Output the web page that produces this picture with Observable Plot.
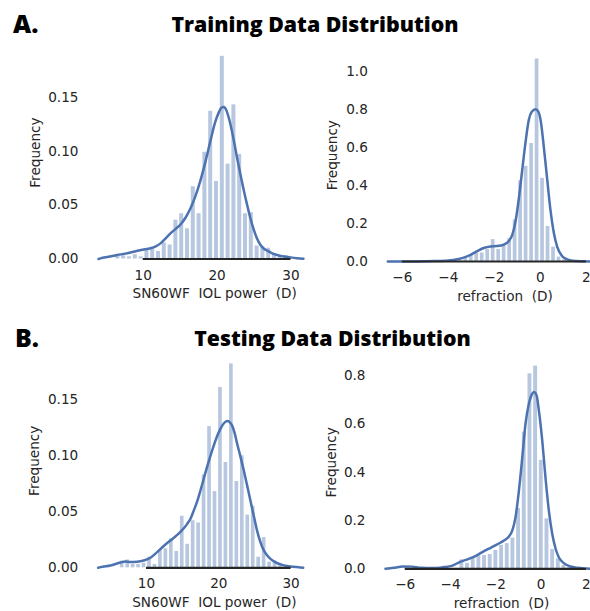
<!DOCTYPE html>
<html>
<head>
<meta charset="utf-8">
<script src="https://cdn.jsdelivr.net/npm/d3@7"></script>
<script src="https://cdn.jsdelivr.net/npm/@observablehq/plot@0.6"></script>
<style>
  html, body { margin: 0; padding: 0; background: #fff; overflow: hidden; }
  #figure { position: relative; width: 590px; height: 611px; overflow: hidden; }
  #figure > svg { position: absolute; }
  svg.dist-panel text { font-family: "DejaVu Sans", sans-serif !important; font-size: 13.6px !important; }
</style>
</head>
<body>
<div id="figure"></div>
<script>
// ---- Histogram densities (bin start, bin width, heights) ----
const iolTrainBinStart = 6.18, iolTrainBinWidth = 0.785;
const iolTrainDensity = [0.003, 0.003, 0.002, 0.004, 0.002, 0.008, 0.009, 0.007, 0.015, 0.013,
  0.036, 0.042, 0.028, 0.067, 0.042, 0.099, 0.137, 0.072, 0.188, 0.088,
  0.143, 0.097, 0.042, 0.043, 0.012, 0.011, 0.010, 0.004, 0.003, 0.003];

const refrTrainBinStart = -3.838, refrTrainBinWidth = 0.2384;
const refrTrainDensity = [0.003, 0.008, 0.019, 0.031, 0.045, 0.045, 0.063, 0.115, 0.063, 0.087,
  0.119, 0.219, 0.425, 0.50, 0.62, 1.064, 0.437, 0.184, 0.075, 0.023, 0.008];

const iolTestBinStart = 6.26, iolTestBinWidth = 0.755;
const iolTestDensity = [0.006, 0.007, 0.003, 0.003, 0.004, 0.0095, 0.003, 0.016, 0.017, 0.026,
  0.0146, 0.046, 0.021, 0.042, 0.040, 0.083, 0.126, 0.068, 0.161, 0.094,
  0.182, 0.077, 0.100, 0.047, 0.055, 0.0095, 0.027, 0.005, 0.006, 0.004, 0.002];

const refrTestBinStart = -3.625, refrTestBinWidth = 0.2505;
const refrTestDensity = [0.037, 0.023, 0.044, 0.054, 0.055, 0.059, 0.076, 0.097, 0.104, 0.127,
  0.25, 0.566, 0.807, 0.839, 0.449, 0.207, 0.080, 0.041, 0.014, 0.007];

// ---- Kernel density estimates ([value, density]) ----
const iolTrainKde = [[3.95,0],[4.22,0.0006],[5.3,0.002],[6.48,0.0037],[7.6,0.005],[8.73,0.0068],
  [9.9,0.0085],[10.99,0.010],[11.7,0.0118],[12.34,0.0145],[13.0,0.019],[13.69,0.0238],[14.4,0.028],
  [15.05,0.032],[15.7,0.038],[16.4,0.047],[17.1,0.059],[17.75,0.073],[18.45,0.091],[19.11,0.110],
  [19.7,0.126],[20.23,0.136],[20.6,0.1405],[20.91,0.141],[21.25,0.138],[21.58,0.131],[22.26,0.110],
  [22.7,0.094],[23.17,0.078],[23.6,0.064],[24.07,0.050],[24.5,0.038],[24.97,0.027],[25.4,0.019],
  [25.87,0.013],[26.3,0.0098],[26.78,0.0077],[27.4,0.0055],[28.13,0.0037],[29.0,0.0024],
  [29.93,0.0015],[30.8,0.0008],[31.69,0.0003]];

const refrTrainKde = [[-6.63,0],[-5.5,0.0005],[-4.6,0.002],[-4.0,0.005],[-3.6,0.012],[-3.3,0.022],
  [-3.035,0.035],[-2.74,0.054],[-2.46,0.071],[-2.165,0.079],[-1.875,0.081],[-1.585,0.089],
  [-1.37,0.108],[-1.22,0.14],[-1.08,0.21],[-0.93,0.335],[-0.79,0.478],[-0.64,0.63],[-0.5,0.745],
  [-0.38,0.785],[-0.2,0.80],[-0.1,0.79],[0.01,0.744],[0.15,0.604],[0.30,0.429],[0.44,0.271],
  [0.59,0.148],[0.73,0.078],[0.95,0.028],[1.17,0.011],[1.4,0.004],[1.8,0.001],[2.28,0]];

const iolTestKde = [[3.32,0],[3.64,0.0006],[5.02,0.002],[6.40,0.0048],[7.09,0.0057],[7.78,0.0052],
  [8.70,0.0054],[9.62,0.0065],[10.55,0.009],[11.47,0.014],[12.39,0.0195],[13.31,0.0244],[14.0,0.028],
  [14.69,0.032],[15.61,0.039],[16.1,0.044],[16.53,0.051],[17.0,0.059],[17.46,0.069],[18.38,0.090],
  [19.30,0.109],[19.8,0.118],[20.22,0.124],[20.7,0.129],[21.14,0.131],[21.5,0.130],[21.84,0.127],
  [22.2,0.120],[22.53,0.111],[23.0,0.099],[23.45,0.087],[23.9,0.074],[24.37,0.060],[24.85,0.046],
  [25.30,0.033],[25.75,0.023],[26.22,0.0155],[26.7,0.011],[27.14,0.008],[27.8,0.005],[28.52,0.003],
  [29.91,0.0012],[31.29,0.0003],[31.67,0]];

const refrTestKde = [[-6.87,0],[-6.5,0.004],[-6.1,0.010],[-5.7,0.009],[-5.3,0.004],[-4.8,0.003],
  [-4.3,0.007],[-3.95,0.012],[-3.6,0.028],[-3.2,0.041],[-2.82,0.057],[-2.52,0.073],[-2.23,0.087],
  [-1.94,0.101],[-1.64,0.117],[-1.42,0.134],[-1.27,0.159],[-1.13,0.214],[-0.98,0.324],[-0.83,0.462],
  [-0.69,0.60],[-0.54,0.683],[-0.42,0.72],[-0.32,0.732],[-0.2,0.718],[-0.10,0.656],[0.05,0.531],
  [0.19,0.38],[0.34,0.242],[0.49,0.145],[0.64,0.083],[0.78,0.048],[1.0,0.0235],[1.3,0.0097],
  [1.6,0.004],[2.0,0.001],[2.18,0]];

// ---- Tick values ----
const iolTicks = [10, 20, 30];
const refrTicks = [-6, -4, -2, 0, 2];
const iolTrainYTicks = [0, 0.05, 0.10, 0.15];
const refrTrainYTicks = [0, 0.2, 0.4, 0.6, 0.8, 1.0];
const iolTestYTicks = [0, 0.05, 0.10, 0.15];
const refrTestYTicks = [0, 0.2, 0.4, 0.6, 0.8];

// ---- Labels ----
const iolLabel = "SN60WF  IOL power  (D)";
const refrLabel = "refraction  (D)";
const yLabel = "Frequency";
const panelLetters = ["A.", "B."];
const panelTitles = ["Training Data Distribution", "Testing Data Distribution"];

const BLUE = "#4C72B0";
const INK = "#262626";
const minusFormat = d => (d < 0 ? "\u2212" : "") + Math.abs(d);

function binsOf(start, width, heights) {
  return heights.map((v, i) => ({x1: start + i * width, x2: start + (i + 1) * width, v}));
}

function panel({box, frame, xDomain, yDomain, xTicks, yTicks, yFormat, bins, kde, xLabel, xLabelDx, yLabelDx, xTickPad}) {
  const svg = Plot.plot({
    className: "dist-panel",
    width: box.width,
    height: box.height,
    marginLeft: frame.left - box.left,
    marginRight: box.left + box.width - frame.right,
    marginTop: frame.top - box.top,
    marginBottom: box.top + box.height - frame.bottom,
    style: {background: "transparent", overflow: "visible", color: INK},
    x: {domain: xDomain},
    y: {domain: yDomain},
    marks: [
      Plot.rectY(bins, {x1: "x1", x2: "x2", y1: 0, y2: "v", fill: BLUE, fillOpacity: 0.4, insetLeft: 0.9, insetRight: 0.9}),
      Plot.line(kde, {x: d => d[0], y: d => d[1], stroke: BLUE, strokeWidth: 2.5, curve: "monotone-x"}),
      Plot.ruleY([0], {x1: xTicks[0], x2: xTicks[xTicks.length - 1], stroke: INK, strokeWidth: 2.2}),
      Plot.axisX({ticks: xTicks, tickSize: 0, tickPadding: xTickPad, tickFormat: minusFormat, label: null}),
      Plot.axisY({ticks: yTicks, tickSize: 0, tickPadding: 20, tickFormat: yFormat, label: null}),
      Plot.text([xLabel], {frameAnchor: "bottom-left", dx: xLabelDx, dy: 39, textAnchor: "start", lineAnchor: "bottom"}),
      Plot.text([yLabel], {frameAnchor: "left", rotate: -90, dx: -yLabelDx, textAnchor: "middle", lineAnchor: "bottom"})
    ]
  });
  svg.style.left = box.left + "px";
  svg.style.top = box.top + "px";
  return svg;
}

const fig = document.getElementById("figure");

fig.append(panel({
  box: {left: 0, top: 36, width: 310, height: 274},
  frame: {left: 98, right: 303, top: 45.7, bottom: 258.5},
  xDomain: [3.95, 31.69], yDomain: [0, 0.1974],
  xTicks: iolTicks, yTicks: iolTrainYTicks, yFormat: d3.format(".2f"),
  bins: binsOf(iolTrainBinStart, iolTrainBinWidth, iolTrainDensity), kde: iolTrainKde,
  xLabel: iolLabel, xLabelDx: 34, yLabelDx: 58.8, xTickPad: 11.5
}));

fig.append(panel({
  box: {left: 310, top: 36, width: 285, height: 274},
  frame: {left: 387.3, right: 592.3, top: 48.4, bottom: 261},
  xDomain: [-6.63, 2.28], yDomain: [0, 1.117],
  xTicks: refrTicks, yTicks: refrTrainYTicks, yFormat: d3.format(".1f"),
  bins: binsOf(refrTrainBinStart, refrTrainBinWidth, refrTrainDensity), kde: refrTrainKde,
  xLabel: refrLabel, xLabelDx: 69.4, yLabelDx: 50.7, xTickPad: 11
}));

fig.append(panel({
  box: {left: 0, top: 340, width: 310, height: 271},
  frame: {left: 97.7, right: 302.7, top: 353.3, bottom: 567.3},
  xDomain: [3.32, 31.67], yDomain: [0, 0.191],
  xTicks: iolTicks, yTicks: iolTestYTicks, yFormat: d3.format(".2f"),
  bins: binsOf(iolTestBinStart, iolTestBinWidth, iolTestDensity), kde: iolTestKde,
  xLabel: iolLabel, xLabelDx: 34, yLabelDx: 59.5, xTickPad: 11
}));

fig.append(panel({
  box: {left: 310, top: 340, width: 285, height: 271},
  frame: {left: 385, right: 590, top: 355.5, bottom: 568.3},
  xDomain: [-6.87, 2.18], yDomain: [0, 0.881],
  xTicks: refrTicks, yTicks: refrTestYTicks, yFormat: d3.format(".1f"),
  bins: binsOf(refrTestBinStart, refrTestBinWidth, refrTestDensity), kde: refrTestKde,
  xLabel: refrLabel, xLabelDx: 68.3, yLabelDx: 50, xTickPad: 11
}));

// ---- Panel letters and row titles ----
const heads = d3.create("svg")
  .attr("width", 590).attr("height", 611)
  .style("left", "0px").style("top", "0px")
  .style("font-family", "'Open Sans', sans-serif")
  .style("font-weight", 800)
  .attr("fill", "#000");
const rows = [
  {letterX: 13, letterY: 33.3, titleX: 315, titleY: 31.7},
  {letterX: 15, letterY: 346.7, titleX: 332.5, titleY: 345.7}
];
rows.forEach((r, i) => {
  heads.append("text").attr("x", r.letterX).attr("y", r.letterY)
    .attr("font-size", 25).text(panelLetters[i]);
  heads.append("text").attr("x", r.titleX).attr("y", r.titleY)
    .attr("font-size", 21.3).attr("text-anchor", "middle").text(panelTitles[i]);
});
fig.append(heads.node());
</script>
</body>
</html>
